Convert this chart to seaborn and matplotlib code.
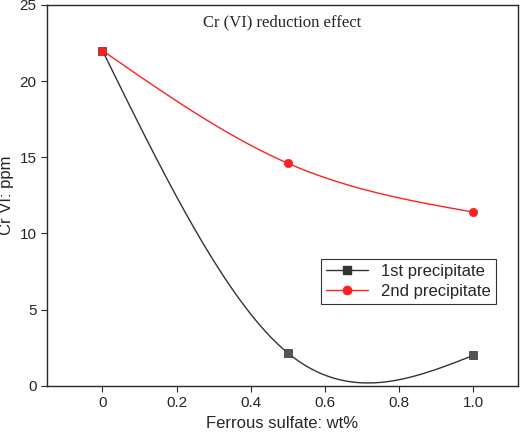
import numpy as np
import matplotlib
matplotlib.use("Agg")
import matplotlib.pyplot as plt
import seaborn as sns

x = [0.0, 0.5, 1.0]
first = [22.0, 2.15, 2.0]
second = [22.0, 14.6, 11.4]
xticks = [0, 0.2, 0.4, 0.6, 0.8, 1.0]
xticklabels = ["0", "0.2", "0.4", "0.6", "0.8", "1.0"]

def natural_spline(xs, ys, n=200):
    xs = np.asarray(xs, float); ys = np.asarray(ys, float)
    k = len(xs); h = np.diff(xs)
    A = np.zeros((k, k)); b = np.zeros(k)
    A[0, 0] = A[-1, -1] = 1
    for i in range(1, k - 1):
        A[i, i - 1] = h[i - 1]; A[i, i] = 2 * (h[i - 1] + h[i]); A[i, i + 1] = h[i]
        b[i] = 6 * ((ys[i + 1] - ys[i]) / h[i] - (ys[i] - ys[i - 1]) / h[i - 1])
    M = np.linalg.solve(A, b)
    xx = np.linspace(xs[0], xs[-1], n); yy = np.empty_like(xx)
    for j, t in enumerate(xx):
        i = min(np.searchsorted(xs, t, side="right") - 1, k - 2)
        a, c = xs[i], xs[i + 1]; hh = c - a
        yy[j] = (M[i] * (c - t) ** 3 / (6 * hh) + M[i + 1] * (t - a) ** 3 / (6 * hh)
                 + (ys[i] / hh - M[i] * hh / 6) * (c - t) + (ys[i + 1] / hh - M[i + 1] * hh / 6) * (t - a))
    return xx, yy

sns.set_style("ticks")
plt.rcParams['font.family'] = ['Liberation Sans', 'DejaVu Sans']
fig = plt.figure(figsize=(5.2, 4.37), dpi=100)
ax = fig.add_axes([0.09, 0.117, 0.906, 0.872])

for ys, col, mk, lab in [(first, "#333333", "s", "1st precipitate"), (second, "#ff2020", "o", "2nd precipitate")]:
    xx, yy = natural_spline(x, ys)
    sns.lineplot(x=xx, y=yy, ax=ax, color=col, lw=1, label=None)
    ax.plot([], [], color=col, marker=mk, ms=6, lw=1, label=lab)
    sns.scatterplot(x=x, y=ys, ax=ax, color=col if col != "#333333" else "#555555",
                    marker=mk, s=36, edgecolor=col, linewidth=0.5, zorder=3)

ax.set_xlim(-0.15, 1.12)
ax.set_ylim(0, 25)
ax.set_xticks(xticks); ax.set_xticklabels(xticklabels)
ax.set_yticks(range(0, 26, 5))
ax.tick_params(labelsize=11, direction="out", length=4)
for s in ax.spines.values():
    s.set_visible(True); s.set_linewidth(1)
ax.set_xlabel("Ferrous sulfate: wt%", fontsize=12)
ax.set_ylabel("Cr VI: ppm", fontsize=12)
ax.text(0.5, 0.955, "Cr (VI) reduction effect", transform=ax.transAxes, ha="center", va="center",
        fontsize=12, family="Liberation Serif")
leg = ax.legend(loc="upper left", bbox_to_anchor=(0.565, 0.355), fontsize=12, frameon=True,
                fancybox=False, edgecolor="black", handlelength=2.5, borderpad=0.3, labelspacing=0.3)
leg.get_frame().set_linewidth(0.8)
fig.savefig("out.png", dpi=100)
